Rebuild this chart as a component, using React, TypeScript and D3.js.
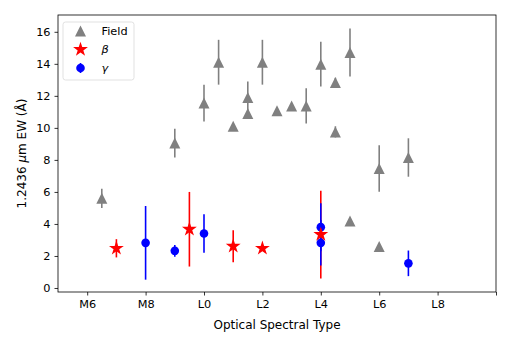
import * as d3 from "d3";
import React, { useRef, useEffect } from "react";

const W = 512;
const H = 342;
const margin = { top: 15, right: 16, bottom: 50, left: 58 };
const width = W - margin.left - margin.right;
const height = H - margin.top - margin.bottom;

// spectral type numbers: M6 = 6, L0 = 10 ...
const fieldType = [6.5, 9, 10, 10.5, 11, 11.5, 11.5, 12, 12.5, 13, 13.5, 14, 14.5, 14.5, 15, 15, 16, 16, 17];
const fieldEW = [5.6, 9.05, 11.55, 14.1, 10.1, 11.9, 10.9, 14.1, 11.07, 11.37, 11.37, 13.98, 12.83, 9.75, 14.71, 4.18, 7.46, 2.59, 8.15];
const fieldErr = [0.6, 0.9, 1.15, 1.4, 0.2, 1.0, 0.2, 1.4, 0, 0, 1.1, 1.4, 0.3, 0.35, 1.5, 0, 1.45, 0, 1.2];

const betaType = [7, 9.5, 11, 12, 14];
const betaEW = [2.48, 3.67, 2.61, 2.48, 3.34];
const betaErr = [0.57, 2.33, 1.0, 0.1, 2.74];

const gammaType = [8, 9, 10, 14, 14, 17];
const gammaEW = [2.82, 2.32, 3.4, 3.8, 2.82, 1.54];
const gammaErr = [2.3, 0.37, 1.2, 1.5, 1.42, 0.8];

const xTicks = [6, 8, 10, 12, 14, 16, 18, 20];
const xTickLabels = ["M6", "M8", "L0", "L2", "L4", "L6", "L8", ""];
const yTicks = [0, 2, 4, 6, 8, 10, 12, 14, 16];

const GRAY = "#808080";
const RED = "#ff0000";
const BLUE = "#0000ff";

const triPath = (r: number) => `M0,${-r}L${-r},${r}L${r},${r}Z`;
const starPath = (r: number) => {
  const pts: string[] = [];
  for (let i = 0; i < 10; i++) {
    const rr = i % 2 === 0 ? r : r * 0.382;
    const a = (Math.PI / 5) * i - Math.PI / 2;
    pts.push(`${rr * Math.cos(a)},${rr * Math.sin(a)}`);
  }
  return "M" + pts.join("L") + "Z";
};

function App() {
  const ref = useRef<SVGSVGElement>(null);

  useEffect(() => {
    const svg = d3.select(ref.current);
    svg.selectAll("*").remove();

    const x = d3.scaleLinear().domain([5, 20]).range([0, width]);
    const y = d3.scaleLinear().domain([-0.25, 17.05]).range([height, 0]);

    const g = svg.append("g").attr("transform", `translate(${margin.left},${margin.top})`);

    const font = "DejaVu Sans, sans-serif";
    const fs = 11.3;
    const labelFs = 12;

    // axes
    const xAxis = g
      .append("g")
      .attr("transform", `translate(0,${height})`)
      .call(
        d3.axisBottom(x).tickValues(xTicks).tickFormat((_, i) => xTickLabels[i]).tickSize(3.5).tickPadding(4)
      );
    const yAxis = g
      .append("g")
      .call(d3.axisLeft(y).tickValues(yTicks).tickSize(3.5).tickPadding(4));
    [xAxis, yAxis].forEach((a) => {
      a.select(".domain").remove();
      a.selectAll("line").attr("stroke", "#000").attr("stroke-width", 0.8);
      a.selectAll("text").attr("font-family", font).attr("font-size", fs).attr("fill", "#000");
    });

    const errBars = (types: number[], vals: number[], errs: number[], color: string) => {
      g.append("g")
        .selectAll("line")
        .data(types.map((t, i) => ({ t, v: vals[i], e: errs[i] })).filter((d) => d.e > 0))
        .join("line")
        .attr("x1", (d) => x(d.t))
        .attr("x2", (d) => x(d.t))
        .attr("y1", (d) => y(d.v - d.e))
        .attr("y2", (d) => y(d.v + d.e))
        .attr("stroke", color)
        .attr("stroke-width", 1.6);
    };
    const markers = (types: number[], vals: number[], color: string, path: string) => {
      g.append("g")
        .selectAll("path")
        .data(types.map((t, i) => ({ t, v: vals[i] })))
        .join("path")
        .attr("transform", (d) => `translate(${x(d.t)},${y(d.v)})`)
        .attr("d", path)
        .attr("fill", color);
    };

    errBars(fieldType, fieldEW, fieldErr, GRAY);
    markers(fieldType, fieldEW, GRAY, triPath(5.5));
    errBars(betaType, betaEW, betaErr, RED);
    errBars(gammaType, gammaEW, gammaErr, BLUE);
    g.append("g")
      .selectAll("circle")
      .data(gammaType.map((t, i) => ({ t, v: gammaEW[i] })))
      .join("circle")
      .attr("cx", (d) => x(d.t))
      .attr("cy", (d) => y(d.v))
      .attr("r", 4.3)
      .attr("fill", BLUE);
    markers(betaType, betaEW, RED, starPath(7.8));

    // frame
    g.append("rect")
      .attr("width", width)
      .attr("height", height)
      .attr("fill", "none")
      .attr("stroke", "#000")
      .attr("stroke-width", 0.8);

    // legend
    const lg = g.append("g").attr("transform", "translate(5,7)");
    lg.append("rect")
      .attr("width", 71)
      .attr("height", 58)
      .attr("rx", 2.5)
      .attr("fill", "#fff")
      .attr("fill-opacity", 0.8)
      .attr("stroke", "#d9d9d9")
      .attr("stroke-width", 0.8);
    const rows = [
      { label: "Field", italic: false },
      { label: "β", italic: true },
      { label: "γ", italic: true },
    ];
    rows.forEach((r, i) => {
      const row = lg.append("g").attr("transform", `translate(17.5,${9 + i * 18.5})`);
      if (i === 0) {
        row.append("path").attr("d", triPath(5.5)).attr("fill", GRAY);
      } else if (i === 1) {
        row.append("path").attr("d", starPath(7.8)).attr("fill", RED);
      } else {
        row.append("line").attr("y1", -5).attr("y2", 5).attr("stroke", BLUE).attr("stroke-width", 1.6);
        row.append("circle").attr("r", 4.3).attr("fill", BLUE);
      }
      row
        .append("text")
        .attr("x", 21)
        .attr("dy", "0.35em")
        .attr("font-family", font)
        .attr("font-size", fs)
        .attr("font-style", r.italic ? "italic" : "normal")
        .text(r.label);
    });

    // axis labels
    g.append("text")
      .attr("x", width / 2)
      .attr("y", height + 37)
      .attr("text-anchor", "middle")
      .attr("font-family", font)
      .attr("font-size", labelFs)
      .text("Optical Spectral Type");

    const yl = g
      .append("text")
      .attr("transform", `translate(${-32},${height / 2}) rotate(-90)`)
      .attr("text-anchor", "middle")
      .attr("font-family", font)
      .attr("font-size", labelFs);
    yl.append("tspan").text("1.2436 ");
    yl.append("tspan").attr("font-style", "italic").text("μ");
    yl.append("tspan").text("m EW (Å)");
  }, []);

  return (
    <div style={{ position: "absolute", left: 0, top: 0 }}>
      <svg ref={ref} width={W} height={H} style={{ display: "block", background: "#fff" }}></svg>
    </div>
  );
}

export default App;
